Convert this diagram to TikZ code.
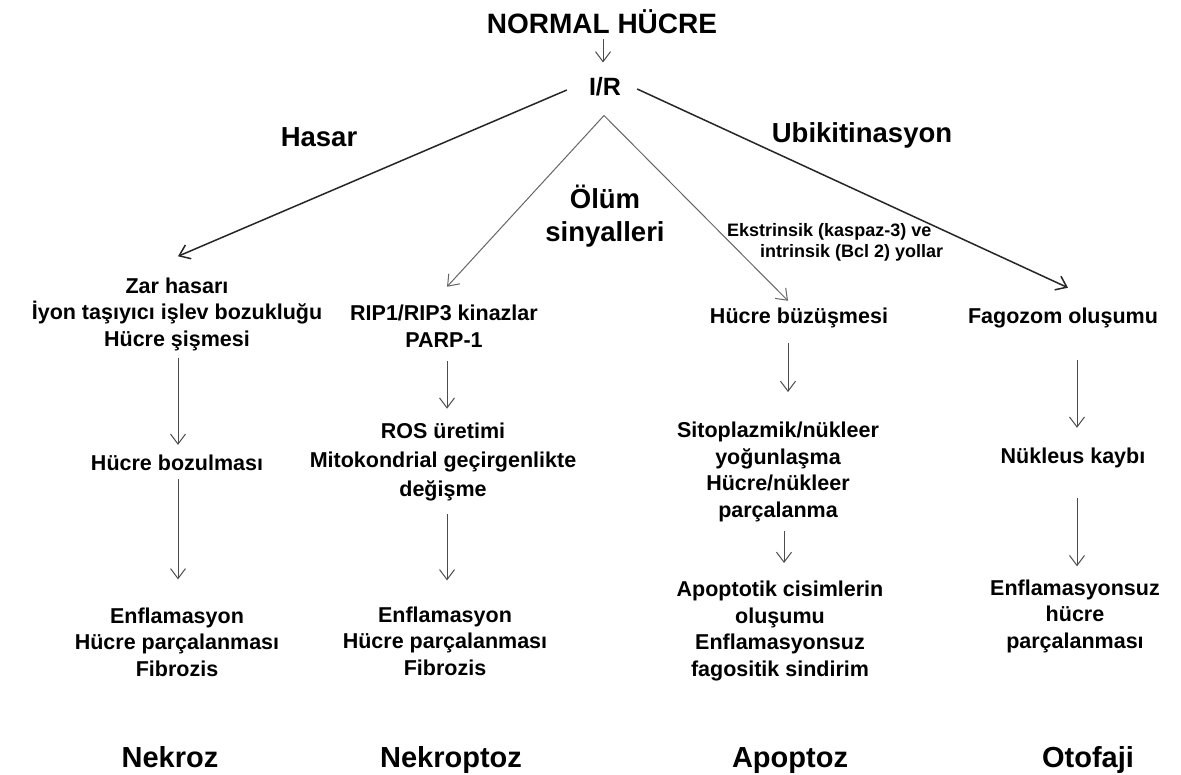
\documentclass[tikz,border=0pt]{standalone}
\usepackage{fontspec}
\setmainfont{Liberation Sans}
\usetikzlibrary{arrows.meta}

\begin{document}
\begin{tikzpicture}[x=1pt, y=-1pt,
    txt/.style={inner sep=0pt, align=center, font=\fontsize{21.5}{26.5}\selectfont\bfseries},
    head/.style={inner sep=0pt, align=center, font=\fontsize{27.5}{33}\selectfont\bfseries},
    kind/.style={inner sep=0pt, anchor=base, font=\fontsize{29}{32}\selectfont\bfseries},
    main/.style={-{Straight Barb[length=10pt,width=15pt]}, line width=1.5pt, draw=black!85},
    side/.style={-{Straight Barb[length=10pt,width=15pt]}, line width=1pt, draw=black!60},
    flow/.style={-{Straight Barb[length=10pt,width=15pt]}, line width=1pt, draw=black!70}]
    \fill[white] (0,0) rectangle (1181,774);
    \useasboundingbox (0,0) rectangle (1181,774);

    % Top of the tree
    \node[inner sep=0pt, font=\fontsize{28}{30}\selectfont\bfseries] (normal) at (602,22) {NORMAL HÜCRE};
    \node[inner sep=0pt, font=\fontsize{25}{30}\selectfont\bfseries] (ir) at (605,87) {I/R};

    % Branch labels
    \node[head] (hasar) at (319,137) {Hasar};
    \node[head] (ubik) at (862,135) {Ubikitinasyon};
    \node[head] (olum) at (605,216) {Ölüm\\sinyalleri};
    \node[inner sep=0pt, anchor=west, align=left, font=\fontsize{18}{21}\selectfont\bfseries] (ekst) at (727,242.5)
        {Ekstrinsik (kaspaz-3) ve\\\hspace*{33pt}intrinsik (Bcl 2) yollar};

    % Nekroz column
    \node[txt] (zar) at (177,314) {Zar hasarı\\İyon taşıyıcı işlev bozukluğu\\Hücre şişmesi};
    \node[txt] (hb1) at (177,463) {Hücre bozulması};
    \node[txt] (enf1) at (177,642) {Enflamasyon\\Hücre parçalanması\\Fibrozis};
    \node[kind] (nekroz) at (170,767) {Nekroz};

    % Nekroptoz column
    \node[txt] (rip) at (444,326) {RIP1/RIP3 kinazlar\\PARP-1};
    \node[txt, font=\fontsize{21.5}{29}\selectfont\bfseries] (ros) at (443,462) {ROS üretimi\\Mitokondrial geçirgenlikte\\değişme};
    \node[txt] (enf2) at (445,641) {Enflamasyon\\Hücre parçalanması\\Fibrozis};
    \node[kind] (nekroptoz) at (451,767) {Nekroptoz};

    % Apoptoz column
    \node[txt] (buz) at (799,318) {Hücre büzüşmesi};
    \node[txt] (sito) at (778,472) {Sitoplazmik/nükleer\\yoğunlaşma\\Hücre/nükleer\\parçalanma};
    \node[txt] (apo) at (780,631) {Apoptotik cisimlerin\\oluşumu\\Enflamasyonsuz\\fagositik sindirim};
    \node[kind] (apoptoz) at (790,767) {Apoptoz};

    % Otofaji column
    \node[txt] (fag) at (1063,318) {Fagozom oluşumu};
    \node[txt] (nuk) at (1073,458) {Nükleus kaybı};
    \node[txt] (otoenf) at (1075,616) {Enflamasyonsuz\\hücre\\parçalanması};
    \node[kind] (otofaji) at (1088,767) {Otofaji};

    % Arrows from the top
    \draw[flow, shorten <=5pt, shorten >=15pt] ([xshift=1pt]normal.south) -- ([xshift=-2pt]ir.north);
    \draw[main] ([xshift=-22pt,yshift=-3pt]ir.west) -- ([xshift=1pt,yshift=21pt]zar.north);
    \draw[main] ([xshift=16pt,yshift=-2pt]ir.east) -- ([xshift=5pt,yshift=20pt]fag.north);
    \draw[side] ([xshift=-1pt,yshift=-19pt]ir.south) -- ([xshift=3pt,yshift=18pt]rip.north);
    \draw[side] ([xshift=-1pt,yshift=-19pt]ir.south) -- ([xshift=-11pt,yshift=7pt]buz.north);

    % Arrows down each column
    \draw[flow, shorten <=7pt, shorten >=10pt] ([xshift=1pt]zar.south) -- ([xshift=1pt]hb1.north);
    \draw[flow, shorten <=8pt, shorten >=28pt] ([xshift=1pt]hb1.south) -- ([xshift=1pt]enf1.north);
    \draw[flow, shorten <=14pt, shorten >=14pt] ([xshift=3pt]rip.south) -- ([xshift=4pt]ros.north);
    \draw[flow, shorten <=13pt, shorten >=26pt] ([xshift=4pt]ros.south) -- ([xshift=2pt]enf2.north);
    \draw[flow, shorten <=15pt, shorten >=30pt] ([xshift=-11pt]buz.south) -- ([xshift=10pt]sito.north);
    \draw[flow, shorten <=9pt, shorten >=18pt] ([xshift=6pt]sito.south) -- ([xshift=4pt]apo.north);
    \draw[flow, shorten <=32pt, shorten >=20pt] ([xshift=14pt]fag.south) -- ([xshift=4pt]nuk.north);
    \draw[flow, shorten <=30pt, shorten >=13pt] ([xshift=4pt]nuk.south) -- ([xshift=2pt]otoenf.north);
\end{tikzpicture}
\end{document}
